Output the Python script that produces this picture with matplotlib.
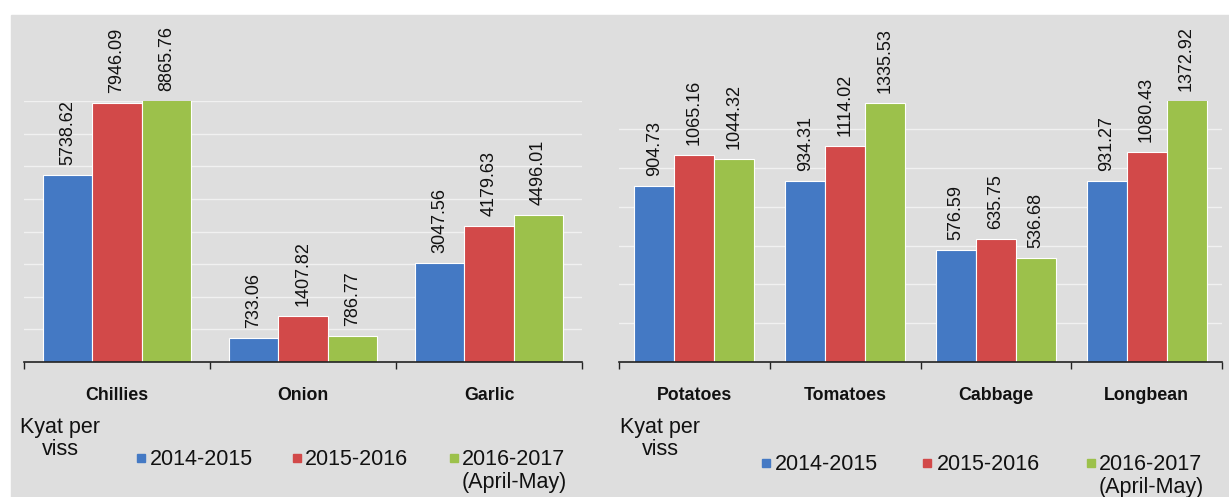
import matplotlib

matplotlib.use("Agg")

import matplotlib.pyplot as plt  # noqa: E402
from matplotlib.patches import Rectangle  # noqa: E402
import numpy as np  # noqa: E402

plt.rcParams["font.family"] = ["Liberation Sans", "DejaVu Sans"]

seasons = ["2014-2015", "2015-2016", "2016-2017\n(April-May)"]
colors = ["#4479c4", "#d24949", "#9cc14b"]

spice_crops = ["Chillies", "Onion", "Garlic"]
spice_2014 = [5738.62, 733.06, 3047.56]
spice_2015 = [7946.09, 1407.82, 4179.63]
spice_2016 = [8865.76, 786.77, 4496.01]

veg_crops = ["Potatoes", "Tomatoes", "Cabbage", "Longbean"]
veg_2014 = [904.73, 934.31, 576.59, 931.27]
veg_2015 = [1065.16, 1114.02, 635.75, 1080.43]
veg_2016 = [1044.32, 1335.53, 536.68, 1372.92]

BG = "#dedede"
W, H = 1229, 497
AX_BOTTOM_PX, AX_TOP_PX = 362, 101
AX_H_PX = AX_BOTTOM_PX - AX_TOP_PX


def draw_panel(ax, crops, series, ymax, grid_step):
    n = len(crops)
    x = np.arange(n)
    width = 0.265
    ax.set_facecolor("none")
    ax.set_xlim(-0.5, n - 0.5)
    ax.set_ylim(0, ymax)
    for y in np.arange(grid_step, ymax + 1, grid_step):
        ax.axhline(y, color="white", linewidth=1.0, alpha=0.6, zorder=0)
    gap = ymax * 10 / AX_H_PX
    for i, (vals, color) in enumerate(zip(series, colors)):
        pos = x + (i - 1) * width
        ax.bar(pos, vals, width=width, color=color, edgecolor="white",
               linewidth=0.8, zorder=2)
        for p, v in zip(pos, vals):
            ax.text(p, min(v, ymax) + gap, f"{v:.2f}", rotation=90,
                    ha="center", va="bottom", fontsize=13,
                    color="#111111", clip_on=False, zorder=3)
    for side in ["left", "right", "top"]:
        ax.spines[side].set_visible(False)
    ax.spines["bottom"].set_color("#222222")
    ax.spines["bottom"].set_linewidth(1.2)
    ax.set_yticks([])
    ax.set_xticks(np.arange(n + 1) - 0.5)
    ax.set_xticklabels([])
    ax.tick_params(axis="x", direction="out", length=5, width=1.0,
                   color="#222222")
    for xi, name in zip(x, crops):
        ax.text(xi, -38 / AX_H_PX, name, transform=ax.get_xaxis_transform(),
                ha="center", va="baseline", fontsize=12.8, fontweight="bold",
                color="#111111")


fig = plt.figure(figsize=(W / 100, H / 100), dpi=100)
fig.patch.set_facecolor("white")
fig.patches.append(Rectangle((11 / W, 0), 1, 1 - 15 / H,
                             transform=fig.transFigure, color=BG, zorder=-10))

bottom = (H - AX_BOTTOM_PX) / H
height = AX_H_PX / H
ax1 = fig.add_axes([24 / W, bottom, 558 / W, height])
ax2 = fig.add_axes([619 / W, bottom, 603 / W, height])

draw_panel(ax1, spice_crops, [spice_2014, spice_2015, spice_2016], 8000, 1000)
draw_panel(ax2, veg_crops, [veg_2014, veg_2015, veg_2016], 1345, 200)

# unit note under each panel, one line per text
for cx in (60, 660):
    for line, base in (("Kyat per", 433), ("viss", 455)):
        fig.text(cx / W, 1 - base / H, line, ha="center", va="baseline",
                 fontsize=15.5, color="#111111")

# legend rows: marker x, text x per season, baseline y
legend_rows = [
    ([137, 293, 450], [150, 305, 462], 465),
    ([762, 923, 1087], [775, 937, 1099], 470),
]
for mxs, txs, base in legend_rows:
    for mx, tx, label, color in zip(mxs, txs, seasons, colors):
        fig.patches.append(Rectangle((mx / W, 1 - (base - 3) / H),
                                     8 / W, 8 / H,
                                     transform=fig.transFigure, color=color))
        for k, line in enumerate(label.split("\n")):
            fig.text(tx / W, 1 - (base + 23 * k) / H, line, ha="left",
                     va="baseline", fontsize=15.5, color="#111111")

fig.savefig("out.png", dpi=100, facecolor=fig.get_facecolor())
plt.close(fig)
